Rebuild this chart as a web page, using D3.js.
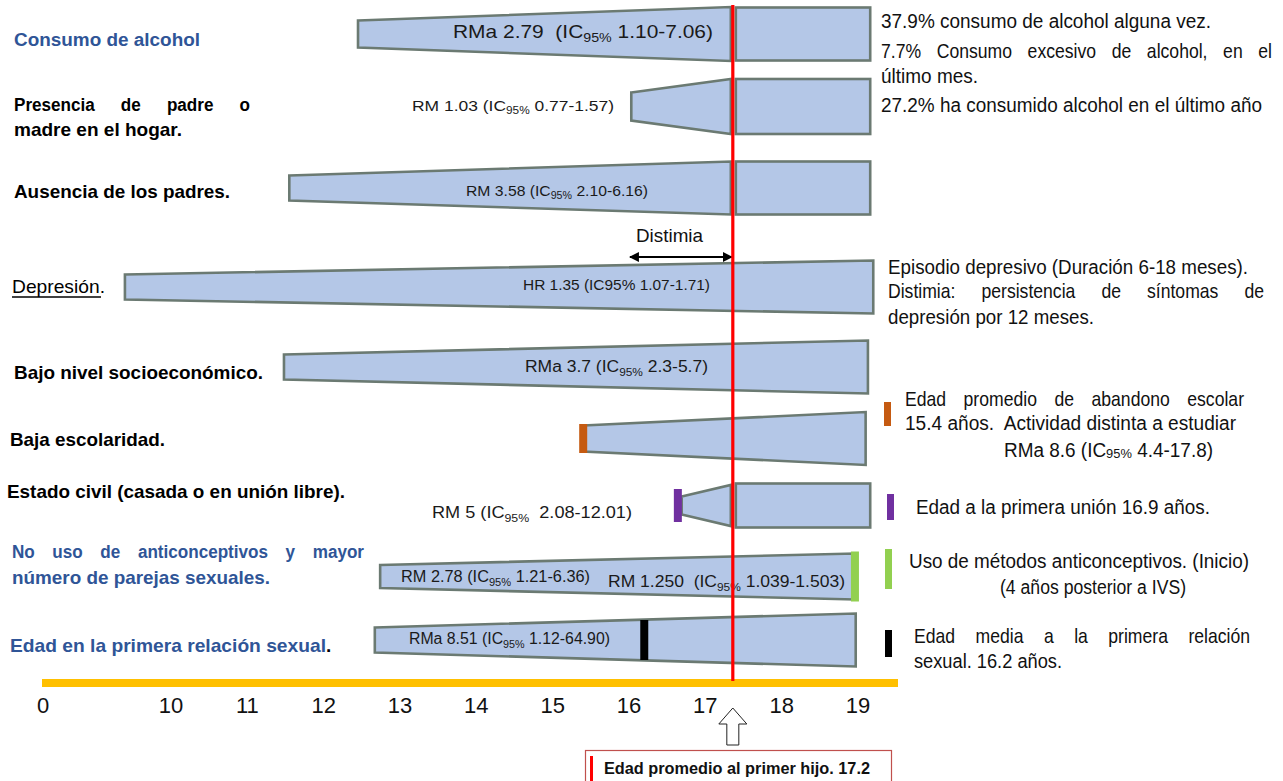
<!DOCTYPE html>
<html><head><meta charset="utf-8">
<script src="https://cdn.jsdelivr.net/npm/d3@7"></script>
<style>
html,body{margin:0;padding:0;background:#fff;}
svg{display:block;}
text{white-space:pre;}
</style>
</head><body>
<svg id="chart" width="1283" height="781"></svg>
<script>
// ---------------- DATA ----------------
const categories = [
  "Consumo de alcohol",
  "Presencia de padre o madre en el hogar.",
  "Ausencia de los padres.",
  "Depresión.",
  "Bajo nivel socioeconómico.",
  "Baja escolaridad.",
  "Estado civil (casada o en unión libre).",
  "No uso de anticonceptivos y mayor número de parejas sexuales.",
  "Edad en la primera relación sexual."
];
// age (years) where each wedge starts / ends
const barStartAge = [12.45, 16.03, 11.55, 6.4, 11.48, 15.4, 16.69, 12.74, 12.67];
const barEndAge   = [19.16, 19.16, 19.16, 19.2, 19.13, 19.1, 19.16, 18.96, 18.97];
// rows split in two pieces at the first-child line
const splitAtLine = [true, true, true, false, false, false, true, false, false];
// risk estimates written on the bars
const riskLabels = [
  ["RMa 2.79  (IC_{95%} 1.10-7.06)"],
  ["RM 1.03 (IC_{95%} 0.77-1.57)"],
  ["RM 3.58 (IC_{95%} 2.10-6.16)"],
  ["HR 1.35 (IC95% 1.07-1.71)"],
  ["RMa 3.7 (IC_{95%} 2.3-5.7)"],
  [],
  ["RM 5 (IC_{95%}  2.08-12.01)"],
  ["RM 2.78 (IC_{95%} 1.21-6.36)", "RM 1.250  (IC_{95%} 1.039-1.503)"],
  ["RMa 8.51 (IC_{95%} 1.12-64.90)"]
];
// reference-age markers on bars
const markerAge    = [null, null, null, null, null, 15.4, 16.64, 18.96, 16.2];
const markerColors = [null, null, null, null, null, "#C55A11", "#7030A0", "#92D050", "#000000"];
// notes on the right
const notes = [
  ["37.9% consumo de alcohol alguna vez.", "7.7% Consumo excesivo de alcohol, en el", "último mes.", "27.2% ha consumido alcohol en el último año"],
  [], [],
  ["Episodio depresivo (Duración 6-18 meses).", "Distimia: persistencia de síntomas de", "depresión por 12 meses."],
  [],
  ["Edad promedio de abandono escolar", "15.4 años.  Actividad distinta a estudiar", "RMa 8.6 (IC_{95%} 4.4-17.8)"],
  ["Edad a la primera unión 16.9 años."],
  ["Uso de métodos anticonceptivos. (Inicio)", "(4 años posterior a IVS)"],
  ["Edad media a la primera relación", "sexual. 16.2 años."]
];
const tickValues = [0, 10, 11, 12, 13, 14, 15, 16, 17, 18, 19];
const firstChildLineAge = 17.36;   // red line as drawn
const firstChildLabel = "Edad promedio al primer hijo. 17.2";
const distimiaSpan = [16.0, 17.36];
const distimiaLabel = "Distimia";

// ---------------- LAYOUT ----------------
const NARROW = "'Liberation Sans Narrow','Arial Narrow','Liberation Sans',Arial,sans-serif";
const SANS = "'Liberation Sans',Arial,sans-serif";
const BLUE = "#2F5597";
const svg = d3.select("#chart");

const x = d3.scaleLinear().domain([0, 10, 19]).range([43, 171, 858]);
const y = d3.scaleOrdinal().domain(categories).range([34, 106.5, 188, 287, 367, 438.5, 505.5, 576.5, 640]);
const leftH  = [27, 28, 25, 25, 25, 26, 18, 23, 25];
const rightH = [54, 55, 53, 53, 53, 53, 41, 46, 53];
const rectH  = [53, 55, 53, 0, 0, 0, 44, 0, 0];

// rich text helper: parts inside _{...} are subscripts
function rich(g, xp, yp, str, o) {
  const t = g.append("text").attr("x", xp).attr("y", yp)
    .attr("font-family", o.family || NARROW).attr("font-size", o.size)
    .attr("font-weight", o.weight || "normal")
    .attr("fill", o.fill || "#111");
  const segs = [];
  const re = /_\{(.*?)\}/g; let last = 0, m;
  while ((m = re.exec(str)) !== null) {
    if (m.index > last) segs.push({t: str.slice(last, m.index), sub: false});
    segs.push({t: m[1], sub: true});
    last = re.lastIndex;
  }
  if (last < str.length) segs.push({t: str.slice(last), sub: false});
  const shift = o.subShift === undefined ? 0.22 : o.subShift;
  let cur = 0;
  segs.forEach(s => {
    const ts = t.append("tspan").text(s.t);
    const target = s.sub ? o.size * shift : 0;
    if (target !== cur) ts.attr("dy", target - cur);
    cur = target;
    if (s.sub) ts.attr("font-size", o.size * 0.68);
  });
  if (o.width) t.attr("textLength", o.width).attr("lengthAdjust", "spacingAndGlyphs");
  return t;
}

// justified line: condensed glyphs, words spread to fill the width
function justify(g, x0, yb, str, target, o) {
  const k = o.k || 0.9;
  const words = str.split(" ");
  const t = g.append("text").attr("transform", `translate(${x0},${yb}) scale(${k},1)`)
    .attr("font-family", o.family || NARROW).attr("font-size", o.size)
    .attr("font-weight", o.weight || "normal").attr("fill", o.fill || "#111");
  const widths = words.map(w => {
    const tmp = t.append("tspan").text(w);
    const wl = tmp.node().getComputedTextLength();
    tmp.remove();
    return wl;
  });
  const gap = (target - d3.sum(widths) * k) / (words.length - 1);
  let pos = 0;
  words.forEach((w, i) => {
    t.append("tspan").attr("x", pos / k).attr("y", 0).text(w + (i < words.length - 1 ? " " : ""));
    pos += widths[i] * k + gap;
  });
  return t;
}

// ---------------- BARS ----------------
const gBars = svg.append("g");
categories.forEach((c, i) => {
  const cy = y(c);
  const x0 = x(barStartAge[i]);
  const xEnd = x(barEndAge[i]);
  const xw = splitAtLine[i] ? x(firstChildLineAge) - 2 : xEnd;
  const pts = [[x0, cy - leftH[i] / 2], [xw, cy - rightH[i] / 2], [xw, cy + rightH[i] / 2], [x0, cy + leftH[i] / 2]];
  gBars.append("polygon").attr("points", pts.map(p => p.join(",")).join(" "))
    .attr("fill", "#B4C7E7").attr("stroke", "#6B7A72").attr("stroke-width", 2.6).attr("stroke-linejoin", "miter");
  if (splitAtLine[i]) {
    const rx = x(firstChildLineAge) + 3;
    gBars.append("rect").attr("x", rx).attr("y", cy - rectH[i] / 2)
      .attr("width", xEnd - rx).attr("height", rectH[i])
      .attr("fill", "#B4C7E7").attr("stroke", "#6B7A72").attr("stroke-width", 2.6);
  }
  if (markerAge[i] !== null) {
    const mh = i === 7 ? rightH[i] + 4 : (i === 8 ? 40 : leftH[i] + (i === 6 ? 15 : 3));
    gBars.append("rect").attr("x", x(markerAge[i]) - 4).attr("y", cy - mh / 2)
      .attr("width", 8).attr("height", mh).attr("fill", markerColors[i]);
  }
});

// risk labels on bars
const riskPos = [
  [{x: 453, y: 38, size: 19, w: 260}],
  [{x: 412, y: 111, size: 15, w: 202}],
  [{x: 466, y: 196, size: 15, w: 182}],
  [{x: 523, y: 290, size: 14, w: 187}],
  [{x: 525, y: 372, size: 16, w: 183}],
  [],
  [{x: 432, y: 518, size: 16, w: 200}],
  [{x: 401, y: 582, size: 16, w: 189}, {x: 608, y: 587, size: 17, w: 237}],
  [{x: 409, y: 644, size: 16, w: 201}]
];
const gRisk = svg.append("g");
riskLabels.forEach((arr, i) => arr.forEach((s, j) => {
  const p = riskPos[i][j];
  rich(gRisk, p.x, p.y, s, {size: p.size, width: p.w, fill: "#1a1a1a"});
}));

// ---------------- LEFT LABELS ----------------
const leftLines = [
  [{t: "Consumo de alcohol", y: 46, w: 186, fill: BLUE}],
  [{t: "Presencia de padre o", y: 111, w: 236, just: true}, {t: "madre en el hogar.", y: 136, w: 168}],
  [{t: "Ausencia de los padres.", y: 198, w: 216}],
  [{t: "Depresión.", y: 293, w: 93, x: 12, weight: "normal"}],
  [{t: "Bajo nivel socioeconómico.", y: 379, w: 249}],
  [{t: "Baja escolaridad.", y: 446, w: 155, x: 10}],
  [{t: "Estado civil (casada o en unión libre).", y: 498, w: 338, x: 7}],
  [{t: "No uso de anticonceptivos y mayor", y: 558, w: 352, x: 12, fill: BLUE, just: true}, {t: "número de parejas sexuales.", y: 584, w: 258, x: 12, fill: BLUE}],
  [{t: "Edad en la primera relación sexual", y: 652, w: 316, x: 10, fill: BLUE}]
];
const gLeft = svg.append("g");
leftLines.forEach(lines => lines.forEach(l => {
  if (l.just) {
    justify(gLeft, l.x || 14, l.y, l.t, l.w, {size: 19, weight: "bold", fill: l.fill || "#000", k: 0.9});
    return;
  }
  gLeft.append("text").attr("x", l.x || 14).attr("y", l.y)
    .attr("font-family", l.t === "Consumo de alcohol" ? SANS : NARROW)
    .attr("font-size", l.t === "Consumo de alcohol" ? 18 : 19).attr("font-weight", l.weight || "bold")
    .attr("fill", l.fill || "#000").text(l.t)
    .attr("textLength", l.w).attr("lengthAdjust", "spacingAndGlyphs");
}));
gLeft.append("text").attr("x", 326).attr("y", 652).attr("font-family", NARROW)
  .attr("font-size", 19).attr("font-weight", "bold").attr("fill", "#000").text(".");
gLeft.append("line").attr("x1", 12).attr("x2", 101).attr("y1", 297).attr("y2", 297)
  .attr("stroke", "#000").attr("stroke-width", 1.6);

// ---------------- RIGHT NOTES ----------------
const notePos = [
  [{x: 881, y: 28, w: 330}, {x: 881, y: 58, w: 391, just: true}, {x: 881, y: 83, w: 97}, {x: 881, y: 112, w: 381}],
  [], [],
  [{x: 888, y: 274, w: 360}, {x: 888, y: 298, w: 376, just: true}, {x: 888, y: 324, w: 206}],
  [],
  [{x: 905, y: 406, w: 339, just: true}, {x: 905, y: 430, w: 331}, {x: 1004, y: 457, w: 209, sub: 0.05}],
  [{x: 916, y: 514, w: 294}],
  [{x: 909, y: 568, w: 340}, {x: 1000, y: 594, w: 186}],
  [{x: 914, y: 643, w: 336, just: true}, {x: 914, y: 668, w: 148}]
];
const gNotes = svg.append("g");
notes.forEach((lines, i) => lines.forEach((s, j) => {
  const p = notePos[i][j];
  if (p.just) justify(gNotes, p.x, p.y, s, p.w, {size: 20, k: 0.88});
  else rich(gNotes, p.x, p.y, s, {size: 20, width: p.w, fill: "#111", subShift: p.sub});
}));
// legend marks on the right
const legendMarks = [
  {i: 5, x: 884, y0: 402, y1: 426},
  {i: 6, x: 887, y0: 494, y1: 520},
  {i: 7, x: 885, y0: 549, y1: 589},
  {i: 8, x: 885, y0: 630, y1: 657}
];
svg.append("g").selectAll("rect").data(legendMarks).join("rect")
  .attr("x", d => d.x).attr("y", d => d.y0).attr("width", 7).attr("height", d => d.y1 - d.y0)
  .attr("fill", d => markerColors[d.i]);

// ---------------- DISTIMIA ARROW ----------------
const defs = svg.append("defs");
["s", "e"].forEach(k => {
  defs.append("marker").attr("id", "arr" + k).attr("viewBox", "0 0 10 10")
    .attr("refX", 9).attr("refY", 5).attr("markerWidth", 4.5).attr("markerHeight", 4.5)
    .attr("orient", k === "e" ? "auto" : "auto-start-reverse")
    .append("path").attr("d", "M0,0 L10,5 L0,10 z").attr("fill", "#000");
});
svg.append("line").attr("x1", x(distimiaSpan[0]) + 1).attr("x2", x(distimiaSpan[1]) - 1)
  .attr("y1", 257).attr("y2", 257).attr("stroke", "#000").attr("stroke-width", 2.2)
  .attr("marker-start", "url(#arrs)").attr("marker-end", "url(#arre)");
svg.append("text").attr("x", 636).attr("y", 242)
  .attr("font-family", NARROW).attr("font-size", 19)
  .attr("fill", "#111").text(distimiaLabel).attr("textLength", 67).attr("lengthAdjust", "spacingAndGlyphs");

// ---------------- AXIS ----------------
svg.append("rect").attr("x", 42).attr("y", 679).attr("width", 856).attr("height", 8).attr("fill", "#FFC000");
svg.append("line").attr("x1", x(firstChildLineAge)).attr("x2", x(firstChildLineAge))
  .attr("y1", 5).attr("y2", 681).attr("stroke", "#FF0000").attr("stroke-width", 3.2);
svg.append("g").selectAll("text").data(tickValues).join("text")
  .attr("x", d => x(d)).attr("y", 713).attr("text-anchor", "middle")
  .attr("font-family", NARROW).attr("font-size", 22).attr("fill", "#111")
  .text(d => d);

// hollow arrow
const ax = x(firstChildLineAge);
const arrowPts = [[ax, 708], [ax + 14, 724], [ax + 6, 724], [ax + 6, 745], [ax - 6, 745], [ax - 6, 724], [ax - 14, 724]];
svg.append("polygon").attr("points", arrowPts.map(p => p.join(",")).join(" "))
  .attr("fill", "#fff").attr("stroke", "#222").attr("stroke-width", 1);

// bottom box
svg.append("rect").attr("x", 585.5).attr("y", 750.5).attr("width", 306).attr("height", 40)
  .attr("fill", "#fff").attr("stroke", "#C0504D").attr("stroke-width", 1.2);
svg.append("rect").attr("x", 590).attr("y", 756).attr("width", 3).attr("height", 25).attr("fill", "#FF0000");
svg.append("text").attr("x", 604).attr("y", 774).attr("font-family", NARROW)
  .attr("font-size", 16).attr("font-weight", "bold").attr("fill", "#111")
  .text(firstChildLabel).attr("textLength", 266).attr("lengthAdjust", "spacingAndGlyphs");
</script>
</body></html>
